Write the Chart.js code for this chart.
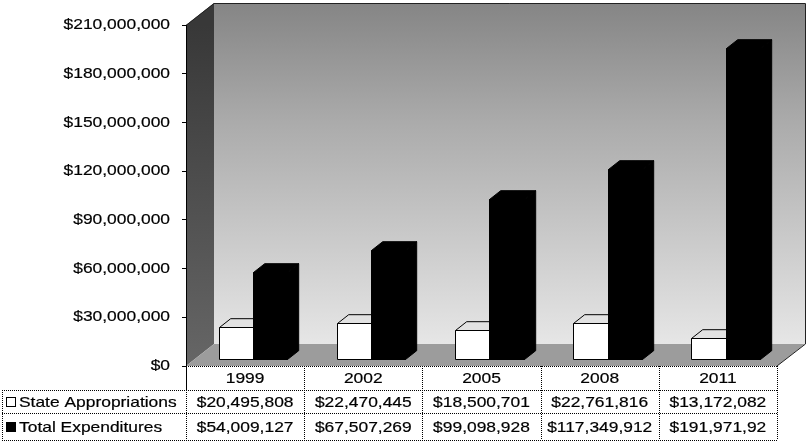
<!DOCTYPE html>
<html>
<head>
<meta charset="utf-8">
<script src="https://cdn.jsdelivr.net/npm/chart.js@4.4.1/dist/chart.umd.min.js"></script>
<style>
  html, body { margin: 0; padding: 0; background: #fff; }
  #wrap { width: 809px; height: 444px; }
</style>
</head>
<body>
<div id="wrap"><canvas id="c" width="809" height="444"></canvas></div>
<script>
// Budget history: state appropriations vs. total expenditures
const years = ['1999', '2002', '2005', '2008', '2011'];
const stateAppropriations = [20495808, 22470445, 18500701, 22761816, 13172082];
const totalExpenditures = [54009127, 67507269, 99098928, 117349912, 191971920];

// Data-table cell text, as printed under the chart
const stateCells = ['$20,495,808', '$22,470,445', '$18,500,701', '$22,761,816', '$13,172,082'];
const totalCells = ['$54,009,127', '$67,507,269', '$99,098,928', '$117,349,912', '$191,971,92'];
const seriesNames = ['State Appropriations', 'Total Expenditures'];

// Value axis range
const yMin = 0;
const yMax = 210000000;
const yStep = 30000000;

// Oblique depth of the 3-D box (walls/floor), in px
const DX = 28, DY = -22;
// Bars sit between these fractions of the depth
const BAR_FRONT = 0.28, BAR_BACK = 0.68;

const FONT = '15px "Liberation Sans", Arial, sans-serif';
const SX = 1.16; // horizontal text stretch

function drawText(ctx, s, x, y, align) {
  ctx.save();
  ctx.font = FONT;
  ctx.textBaseline = 'middle';
  ctx.textAlign = 'left';
  ctx.fillStyle = '#000';
  ctx.strokeStyle = '#000';
  ctx.lineWidth = 0.2;
  const w = ctx.measureText(s).width * SX;
  const x0 = align === 'right' ? x - w : align === 'center' ? x - w / 2 : x;
  ctx.translate(x0, y);
  ctx.scale(SX, 1);
  ctx.fillText(s, 0, 0);
  ctx.strokeText(s, 0, 0);
  ctx.restore();
}

function poly(ctx, pts, fill, stroke) {
  ctx.beginPath();
  ctx.moveTo(pts[0][0], pts[0][1]);
  for (let k = 1; k < pts.length; k++) ctx.lineTo(pts[k][0], pts[k][1]);
  ctx.closePath();
  if (fill) { ctx.fillStyle = fill; ctx.fill(); }
  if (stroke) { ctx.strokeStyle = stroke; ctx.lineWidth = 1; ctx.stroke(); }
}

function money(v) {
  return '$' + Math.round(v).toLocaleString('en-US');
}

const box3d = {
  id: 'box3d',
  beforeDraw(chart) {
    const ctx = chart.ctx;
    const a = chart.chartArea;
    const L = a.left, R = a.right, T = a.top, B = a.bottom;
    ctx.save();
    // back wall
    const g = ctx.createLinearGradient(0, T + DY, 0, B + DY);
    g.addColorStop(0, '#858585');
    g.addColorStop(0.35, '#ababab');
    g.addColorStop(1, '#e6e6e6');
    poly(ctx, [[L + DX, T + DY], [R + DX, T + DY], [R + DX, B + DY], [L + DX, B + DY]], g, null);
    // left side wall
    const gl = ctx.createLinearGradient(0, T, 0, B);
    gl.addColorStop(0, '#383838');
    gl.addColorStop(1, '#666666');
    poly(ctx, [[L, T], [L + DX, T + DY], [L + DX, B + DY], [L, B]], gl, null);
    // floor
    poly(ctx, [[L, B], [R, B], [R + DX, B + DY], [L + DX, B + DY]], '#9c9c9c', null);
    // outline
    ctx.strokeStyle = '#222';
    ctx.lineWidth = 1;
    ctx.beginPath();
    ctx.moveTo(L, T + 0.5);
    ctx.lineTo(L + DX, T + DY + 0.5);
    ctx.lineTo(R + DX + 0.5, T + DY + 0.5);
    ctx.lineTo(R + DX + 0.5, B + DY);
    ctx.lineTo(R, B);
    ctx.stroke();
    ctx.restore();
  },
  beforeDatasetsDraw(chart) {
    const ctx = chart.ctx;
    const fx = DX * BAR_FRONT, fy = DY * BAR_FRONT;
    const bx = DX * (BAR_BACK - BAR_FRONT), by = DY * (BAR_BACK - BAR_FRONT);
    const n = chart.data.labels.length;
    ctx.save();
    ctx.lineJoin = 'miter';
    for (let i = 0; i < n; i++) {
      chart.data.datasets.forEach((ds, d) => {
        const el = chart.getDatasetMeta(d).data[i];
        const l = Math.round(el.x - el.width / 2 + fx) + 0.5;
        const r = Math.round(el.x + el.width / 2 + fx) + 0.5;
        const t = Math.round(el.y + fy) + 0.5;
        const b = Math.round(el.base + fy) + 0.5;
        const dark = d === 1;
        const front = dark ? '#000' : '#fff';
        const top = dark ? '#000' : '#e2e2e2';
        const side = dark ? '#000' : '#c8c8c8';
        poly(ctx, [[r, t], [r + bx, t + by], [r + bx, b + by], [r, b]], side, '#000');
        poly(ctx, [[l, t], [r, t], [r + bx, t + by], [l + bx, t + by]], top, '#000');
        poly(ctx, [[l, t], [r, t], [r, b], [l, b]], front, '#000');
      });
    }
    ctx.restore();
    return false;
  },
  afterDraw(chart) {
    const ctx = chart.ctx;
    const a = chart.chartArea;
    const ys = chart.scales.y;
    const xs = chart.scales.x;
    // value axis labels
    ys.ticks.forEach((tk) => {
      drawText(ctx, money(tk.value), a.left - 16, ys.getPixelForValue(tk.value), 'right');
    });

    // data table
    const n = chart.data.labels.length;
    const cw = (a.right - a.left) / n;
    const r0 = a.bottom, r1 = 390, r2 = 413, r3 = 440;
    const tableLeft = 2;
    ctx.save();
    ctx.strokeStyle = '#000';
    ctx.lineWidth = 1;
    ctx.setLineDash([1, 1]);
    ctx.beginPath();
    // horizontal rules
    ctx.moveTo(a.left, r0 + 0.5); ctx.lineTo(a.right, r0 + 0.5);
    ctx.moveTo(tableLeft, r1 + 0.5); ctx.lineTo(a.right, r1 + 0.5);
    ctx.moveTo(tableLeft, r2 + 0.5); ctx.lineTo(a.right, r2 + 0.5);
    ctx.moveTo(tableLeft, r3 + 0.5); ctx.lineTo(a.right, r3 + 0.5);
    // vertical rules
    ctx.moveTo(tableLeft + 0.5, r1); ctx.lineTo(tableLeft + 0.5, r3);
    for (let i = 1; i <= n; i++) {
      const x = Math.round(a.left + i * cw) + 0.5;
      ctx.moveTo(x, r0); ctx.lineTo(x, r3);
    }
    ctx.moveTo(a.left + 0.5, r1); ctx.lineTo(a.left + 0.5, r3);
    ctx.stroke();
    ctx.setLineDash([]);
    ctx.beginPath();
    ctx.moveTo(a.left + 0.5, r0); ctx.lineTo(a.left + 0.5, r1);
    ctx.stroke();

    for (let i = 0; i < n; i++) {
      const cx = xs.getPixelForValue(i);
      drawText(ctx, chart.data.labels[i], cx, (r0 + r1) / 2 + 1, 'center');
      drawText(ctx, stateCells[i], cx, (r1 + r2) / 2 + 1, 'center');
      drawText(ctx, totalCells[i], cx, (r2 + r3) / 2 + 1, 'center');
    }
    // legend keys + series names
    const k = 9;
    const y1 = Math.round((r1 + r2) / 2 - k / 2) + 0.5;
    const y2 = Math.round((r2 + r3) / 2 - k / 2) + 0.5;
    ctx.fillStyle = '#fff';
    ctx.fillRect(6.5, y1, k, k);
    ctx.strokeRect(6.5, y1, k, k);
    ctx.fillStyle = '#000';
    ctx.fillRect(6.5, y2, k, k);
    ctx.strokeRect(6.5, y2, k, k);
    drawText(ctx, seriesNames[0], 19, (r1 + r2) / 2 + 1, 'left');
    drawText(ctx, seriesNames[1], 19, (r2 + r3) / 2 + 1, 'left');
    ctx.restore();
  }
};

new Chart(document.getElementById('c'), {
  type: 'bar',
  data: {
    labels: years,
    datasets: [
      { label: seriesNames[0], data: stateAppropriations, backgroundColor: '#fff', borderColor: '#000', borderWidth: 1 },
      { label: seriesNames[1], data: totalExpenditures, backgroundColor: '#000', borderColor: '#000', borderWidth: 1 }
    ]
  },
  options: {
    responsive: false,
    animation: false,
    devicePixelRatio: 1,
    layout: { padding: { left: 0, right: 32, top: 25, bottom: 78 } },
    datasets: { bar: { categoryPercentage: 0.58, barPercentage: 1 } },
    plugins: { legend: { display: false }, tooltip: { enabled: false } },
    scales: {
      x: { display: false },
      y: {
        min: yMin,
        max: yMax,
        ticks: { stepSize: yStep, display: false },
        grid: { drawOnChartArea: false, drawTicks: true, tickLength: 4, color: '#000' },
        border: { display: true, color: '#000' },
        afterFit(s) { s.width = 186; }
      }
    }
  },
  plugins: [box3d]
});
</script>
</body>
</html>
